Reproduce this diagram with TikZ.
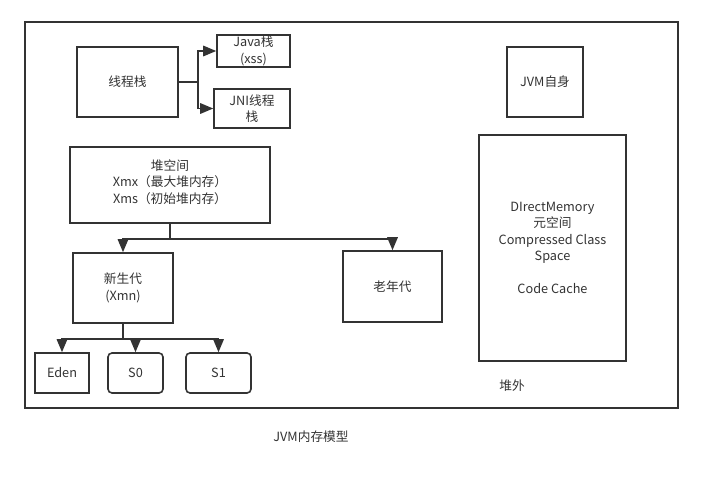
\documentclass[tikz,border=0pt]{standalone}
\usepackage{fontspec}
\setmainfont{Noto Sans CJK SC}
\usetikzlibrary{arrows.meta}
\usetikzlibrary{positioning}

\definecolor{ink}{HTML}{333333}

\begin{document}
\begin{tikzpicture}
                [x=1pt, y=-1pt,
                 every node/.style={text=ink, font=\fontsize{12.7}{16.5}\selectfont, align=center},
                 box/.style={draw=ink, line width=1.6pt, inner sep=0pt},
                 rbox/.style={box, rounded corners=4pt},
                 link/.style={draw=ink, line width=1.6pt},
                 arr/.style={link, -{Triangle[length=13pt, width=10.5pt]}}]
                \useasboundingbox (0,0) rectangle (703,487);
                \node (frame) [box, minimum width=653, minimum height=386] at (351.5,215) { };
                \node (xcz) [box, minimum width=101, minimum height=70] at (127.5,82) {线程栈};
                \node (java) [box, minimum width=73, minimum height=32] at (253.5,51) {Java栈\\(xss)};
                \node (jni) [box, minimum width=76, minimum height=39] at (252,108.5) {JNI线程\\栈};
                \node (heap) [box, minimum width=200, minimum height=76] at (170,185) {堆空间\\Xmx（最大堆内存）\\Xms（初始堆内存）\\[-9pt]};
                \node (young) [box, minimum width=100, minimum height=70] at (123,288) {新生代\\(Xmn)};
                \node (old) [box, minimum width=99, minimum height=71] at (392.5,286.5) {老年代};
                \node (eden) [box, minimum width=54, minimum height=40] at (62,373) {Eden};
                \node (s0) [rbox, minimum width=55, minimum height=40] at (135.5,373) {S0};
                \node (s1) [rbox, minimum width=65, minimum height=40] at (218.5,373) {S1};
                \node (jvm) [box, minimum width=76, minimum height=70] at (545,82) {JVM自身};
                \node (offheap) [box, minimum width=147, minimum height=226] at (552.5,248) {DIrectMemory\\元空间\\Compressed Class\\Space\\[16.5pt]Code Cache};
                \node (offlabel) at (512,386) {堆外};
                \node (title) at (311,437) {JVM内存模型};
                % thread stack
                \draw[arr] (xcz.east) -- ++(19,0) |- (java.west);
                \draw[arr] (xcz.east) -- ++(19,0) |- (jni.west);
                % heap
                \draw[link] (heap.south) -- ++(0,15) coordinate (hj);
                \draw[arr] (hj) -| (young.north);
                \draw[arr] (hj) -| (old.north);
                % young generation
                \draw[link] (young.south) -- ++(0,15) coordinate (yj);
                \draw[arr] (yj) -| (eden.north);
                \draw[arr] (yj) -| (s0.north);
                \draw[arr] (yj) -| (s1.north);
            \end{tikzpicture}
\end{document}
